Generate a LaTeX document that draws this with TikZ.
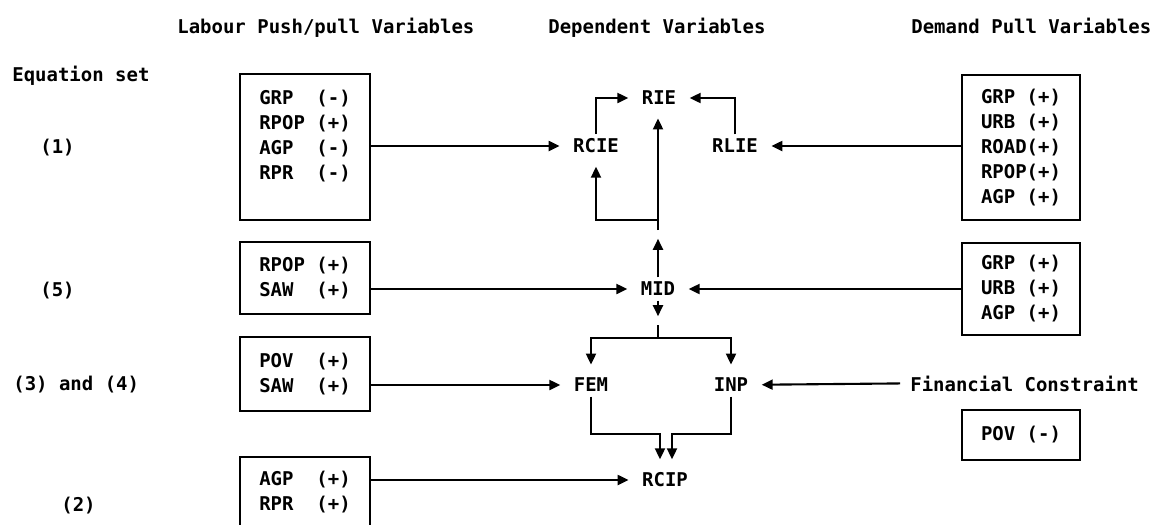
\documentclass[tikz,border=0pt]{standalone}
\usepackage{fontspec}
\newfontfamily\dotfont{DejaVu Sans Mono}
\usetikzlibrary{arrows.meta, positioning}

\begin{document}
\begin{tikzpicture}[
    x=0.2mm, y=-0.2mm,
    every node/.style={font=\dotfont\bfseries\fontsize{10.8}{14.23}\selectfont},
    heading/.style={anchor=base west, inner sep=0pt},
    varbox/.style={draw, line width=1.3pt, align=left, minimum width=26mm},
    pullbox/.style={draw, line width=1.3pt, align=left, minimum width=23.6mm},
    depvar/.style={inner sep=2.5pt},
    arrow/.style={-{Triangle[length=2.2mm, width=2mm]}, line width=1.2pt},
    into/.style={arrow, shorten >=5pt},
]
\useasboundingbox (0,0) rectangle (1156,524);

% Headings
\node[heading] (hlab) at (177,33) {Labour Push/pull Variables};
\node[heading] (hdep) at (548,33) {Dependent Variables};
\node[heading] (hdem) at (911,33) {Demand Pull Variables};
\node[heading] (eqset) at (12,81) {Equation set};
\node[heading] (eq1) at (40,153) {(1)};
\node[heading] (eq5) at (40,296) {(5)};
\node[heading] (eq34) at (13,390) {(3) and (4)};
\node[heading] (eq2) at (61,511) {(2)};

% Labour push/pull boxes
\node[varbox, minimum height=29.2mm] (lb1) at (305,147) {GRP\ \ (-)\\RPOP (+)\\AGP\ \ (-)\\RPR\ \ (-)\\\mbox{}};
\node[varbox, minimum height=14.4mm] (lb2) at (305,278) {RPOP (+)\\SAW\ \ (+)};
\node[varbox, minimum height=14.8mm] (lb3) at (305,374) {POV\ \ (+)\\SAW\ \ (+)};
\node[varbox, minimum height=14.2mm] (lb4) at (305,492.5) {AGP\ \ (+)\\RPR\ \ (+)};

% Dependent variables
\node[depvar] (rie) at (659,98) {RIE};
\node[depvar] (rcie) at (596,146) {RCIE};
\node[depvar] (rlie) at (735,146) {RLIE};
\node[depvar] (mid) at (658,289) {MID};
\node[depvar] (fem) at (591,385) {FEM};
\node[depvar] (inp) at (731,385) {INP};
\node[depvar] (rcip) at (665,480) {RCIP};

% Demand pull boxes
\node[pullbox, minimum height=29mm] (rb1) at (1021,147.5) {GRP (+)\\URB (+)\\ROAD(+)\\RPOP(+)\\AGP (+)};
\node[pullbox, minimum height=18.4mm] (rb2) at (1021,289) {GRP (+)\\URB (+)\\AGP (+)};
\node[heading] (fin) at (910,391) {Financial Constraint};
\node[pullbox, minimum height=10mm] (pov) at (1021,435) {POV (-)};

% Inputs
\draw[into] (lb1.east |- rcie) -- (rcie);
\draw[into] (rb1.west |- rlie) -- (rlie);
\draw[into] (lb2.east |- mid) -- (mid);
\draw[into] (rb2.west |- mid) -- (mid);
\draw[into] (lb3.east |- fem) -- (fem);
\draw[into] ([xshift=-2mm]fin.west) -- (inp);
\draw[into] (lb4.east |- rcip) -- (rcip);

% Top loop
\draw[into] (rcie.north) |- (rie);
\draw[into] (rlie.north) |- (rie);
\coordinate (up) at (658,230);
\coordinate (branch) at (658,220);
\draw[into] (mid.north) -- (up);
\draw[into] (up) -- (up |- rie.south);
\draw[into] (branch) -| (rcie.south);

% Lower fork
\coordinate (fork) at (658,325);
\coordinate (bar) at (658,338);
\draw[into] (mid.south) -- (fork);
\draw[line width=1.2pt] (fork) -- (bar);
\draw[into] (bar) -| (fem.north);
\draw[into] (bar) -| (inp.north);
\coordinate (joinl) at (660,434);
\coordinate (joinr) at (672,434);
\draw[into] (fem.south) |- (joinl) -- (joinl |- rcip.north);
\draw[into] (inp.south) |- (joinr) -- (joinr |- rcip.north);

\end{tikzpicture}
\end{document}
